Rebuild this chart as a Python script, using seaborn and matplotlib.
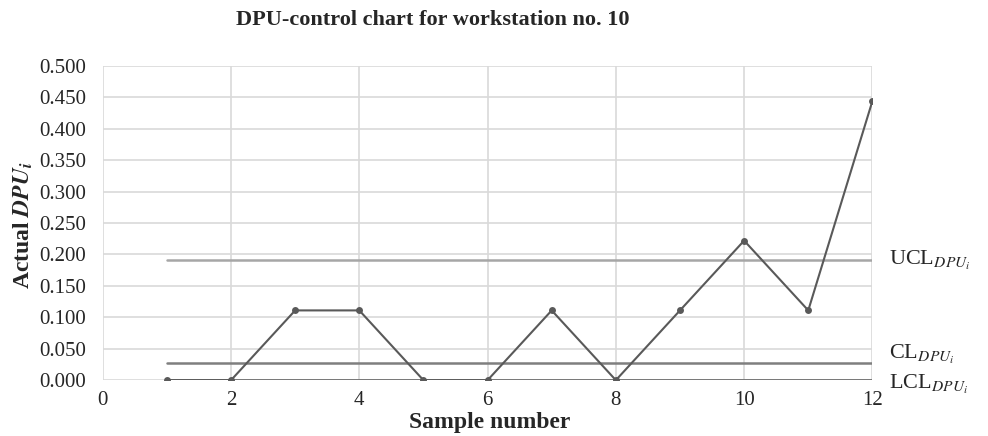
import matplotlib
matplotlib.use("Agg")
import matplotlib.pyplot as plt
import seaborn as sns
import pandas as pd
from matplotlib.ticker import FormatStrFormatter

# data
samples = [1, 2, 3, 4, 5, 6, 7, 8, 9, 10, 11, 12]
dpu = [0.0, 0.0, 0.111, 0.111, 0.0, 0.0, 0.111, 0.0, 0.111, 0.222, 0.111, 0.444]
ucl = 0.191
cl = 0.027
lcl = 0.0
limit_labels = [r"UCL$_{DPU_i}$", r"CL$_{DPU_i}$", r"LCL$_{DPU_i}$"]

df = pd.DataFrame({"sample": samples, "dpu": dpu})

sns.set_style("whitegrid", {"grid.color": "#d9d9d9"})
plt.rcParams["font.family"] = ["Liberation Serif", "DejaVu Serif"]
plt.rcParams["mathtext.fontset"] = "stix"

fig = plt.figure(figsize=(9.88, 4.36), dpi=100)
ax = fig.add_axes([0.104, 0.128, 0.779, 0.721])

# control limits
ax.plot([samples[0], samples[-1]], [ucl, ucl], color="#a6a6a6", lw=1.8)
ax.plot([samples[0], samples[-1]], [cl, cl], color="#7f7f7f", lw=1.8)
ax.plot([samples[0], samples[-1]], [lcl, lcl], color="#595959", lw=1.8)

sns.lineplot(data=df, x="sample", y="dpu", ax=ax, color="#595959",
             marker="o", markersize=5, markeredgewidth=0, lw=1.5)

ax.set_xlim(0, 12)
ax.set_ylim(0, 0.5)
ax.set_xticks(range(0, 13, 2))
ax.set_yticks([i * 0.05 for i in range(11)])
ax.yaxis.set_major_formatter(FormatStrFormatter("%.3f"))
ax.tick_params(axis="y", labelsize=15, length=0, pad=12)
ax.tick_params(axis="x", labelsize=15, length=0, pad=8)
for s in ax.spines.values():
    s.set_visible(False)
ax.grid(True, color="#d9d9d9", lw=1.2)

ax.set_xlabel("")
ax.set_ylabel("")
fig.text(0.496, 0.032, "Sample number", ha="center", va="center",
         fontsize=17, fontweight="bold")
fig.text(0.024, 0.484, r"Actual $\mathbfit{DPU_i}$", ha="center", va="center",
         rotation=90, fontsize=17, fontweight="bold")
fig.text(0.438, 0.955, "DPU-control chart for workstation no. 10",
         ha="center", va="center", fontsize=16, fontweight="bold")

# limit labels to the right
for lab, y in zip(limit_labels, [ucl, cl + 0.014, lcl - 0.006]):
    ax.annotate(lab, xy=(1.0, y), xycoords=("axes fraction", "data"),
                xytext=(12, 0), textcoords="offset points", va="center",
                fontsize=16, annotation_clip=False)

fig.savefig("out.png", dpi=100)
